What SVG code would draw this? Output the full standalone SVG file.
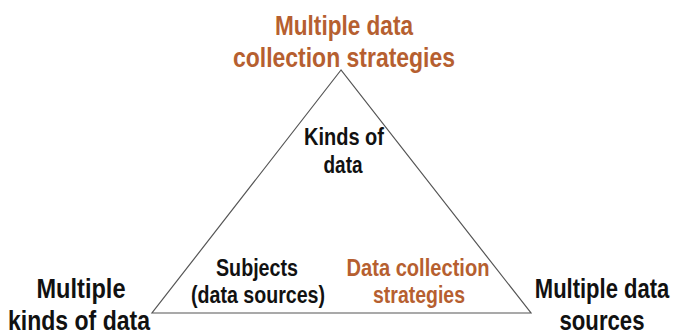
<svg xmlns="http://www.w3.org/2000/svg" width="676" height="336" viewBox="0 0 676 336">
<style>
text{font-family:"Liberation Sans",Arial,sans-serif;font-weight:bold;text-anchor:middle}
.o{fill:#B65F30}
.k{fill:#111}
.big{font-size:27px}
.mid{font-size:23px}
</style>
<rect width="676" height="336" fill="#fff"/>
<g id="connectors">
<polygon points="341,70 152,313 531,313" fill="none" stroke="#555" stroke-width="1.2"/>
</g>
<g id="top">
<text class="o big" x="344" y="35" textLength="138" lengthAdjust="spacingAndGlyphs">Multiple data</text>
<text class="o big" x="344" y="67" textLength="222" lengthAdjust="spacingAndGlyphs">collection strategies</text>
</g>
<g id="left">
<text class="k big" x="81" y="298" textLength="89" lengthAdjust="spacingAndGlyphs">Multiple</text>
<text class="k big" x="79" y="330" textLength="142" lengthAdjust="spacingAndGlyphs">kinds of data</text>
</g>
<g id="right">
<text class="k big" transform="translate(602,298) scale(0.815,1)" x="0" y="0">Multiple data</text>
<text class="k big" x="602" y="330" textLength="85" lengthAdjust="spacingAndGlyphs">sources</text>
</g>
<g id="kinds">
<text class="k mid" x="344" y="145" textLength="80" lengthAdjust="spacingAndGlyphs">Kinds of</text>
<text class="k mid" x="343" y="173" textLength="39" lengthAdjust="spacingAndGlyphs">data</text>
</g>
<g id="subjects">
<text class="k mid" x="257" y="276" textLength="82" lengthAdjust="spacingAndGlyphs">Subjects</text>
<text class="k mid" x="258" y="303" textLength="134" lengthAdjust="spacingAndGlyphs">(data sources)</text>
</g>
<g id="strategies">
<text class="o mid" x="418" y="276" textLength="143" lengthAdjust="spacingAndGlyphs">Data collection</text>
<text class="o mid" x="419" y="303" textLength="92" lengthAdjust="spacingAndGlyphs">strategies</text>
</g>
</svg>
